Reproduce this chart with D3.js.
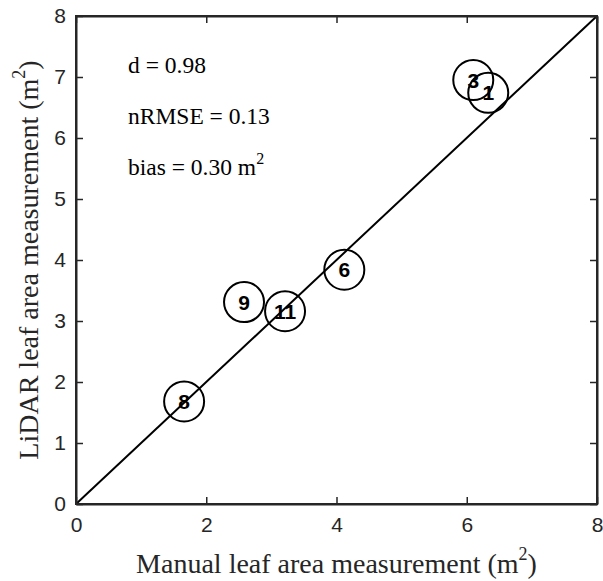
<!DOCTYPE html>
<html>
<head>
<meta charset="utf-8">
<script src="https://cdn.jsdelivr.net/npm/d3@7"></script>
<style>
  body { margin: 0; background: #fff; }
  svg { display: block; }
</style>
</head>
<body>
<script>
const width = 603, height = 581;
const margin = { top: 16, right: 6, bottom: 77, left: 76 };

// plant ids and measurements (m^2)
const plantIds = ["8", "9", "11", "6", "3", "1"];
const manualArea = [1.66, 2.58, 3.21, 4.12, 6.10, 6.33];
const lidarArea = [1.68, 3.31, 3.16, 3.84, 6.95, 6.74];

const xTicks = [0, 2, 4, 6, 8];
const yTicks = [0, 1, 2, 3, 4, 5, 6, 7, 8];
const stats = [
  { label: "d = 0.98", unit: false },
  { label: "nRMSE = 0.13", unit: false },
  { label: "bias = 0.30 m", unit: true }
];

const points = plantIds.map((id, i) => ({ id, x: manualArea[i], y: lidarArea[i] }));

const x = d3.scaleLinear().domain([0, 8]).range([margin.left, width - margin.right]);
const y = d3.scaleLinear().domain([0, 8]).range([height - margin.bottom, margin.top]);

const svg = d3.select("body").append("svg")
  .attr("width", width)
  .attr("height", height);

const axisColor = "#262626";
const tickFont = "'Liberation Sans', Arial, sans-serif";
const serif = "'Liberation Serif', 'Times New Roman', serif";

// 1:1 line
svg.append("line")
  .attr("x1", x(0)).attr("y1", y(0))
  .attr("x2", x(8)).attr("y2", y(8))
  .attr("stroke", "#000")
  .attr("stroke-width", 2);

// circles with ids
const pts = svg.append("g")
  .selectAll("g")
  .data(points)
  .join("g")
  .attr("transform", d => `translate(${x(d.x)},${y(d.y)})`);

pts.append("circle")
  .attr("r", 20)
  .attr("fill", "none")
  .attr("stroke", "#000")
  .attr("stroke-width", 2);

pts.append("text")
  .attr("text-anchor", "middle")
  .attr("dy", "0.36em")
  .attr("font-family", tickFont)
  .attr("font-weight", "bold")
  .attr("font-size", 21)
  .text(d => d.id);

// axes, ticks pointing in, box on all sides
const tickLen = 7;

const gBottom = svg.append("g")
  .attr("transform", `translate(0,${y(0)})`)
  .call(d3.axisBottom(x).tickValues(xTicks).tickSizeInner(-tickLen).tickSizeOuter(0).tickPadding(13));
const gLeft = svg.append("g")
  .attr("transform", `translate(${x(0)},0)`)
  .call(d3.axisLeft(y).tickValues(yTicks).tickSizeInner(-tickLen).tickSizeOuter(0).tickPadding(10));
const gTop = svg.append("g")
  .attr("transform", `translate(0,${y(8)})`)
  .call(d3.axisTop(x).tickValues(xTicks).tickSizeInner(-tickLen).tickSizeOuter(0).tickFormat(""));
const gRight = svg.append("g")
  .attr("transform", `translate(${x(8)},0)`)
  .call(d3.axisRight(y).tickValues(yTicks).tickSizeInner(-tickLen).tickSizeOuter(0).tickFormat(""));

[gBottom, gLeft, gTop, gRight].forEach(g => {
  g.attr("font-family", tickFont).attr("font-size", 21);
  g.select(".domain").attr("stroke", axisColor).attr("stroke-width", 2);
  g.selectAll(".tick line").attr("stroke", axisColor).attr("stroke-width", 1.5);
  g.selectAll(".tick text").attr("fill", axisColor);
});

// box
svg.append("rect")
  .attr("x", x(0)).attr("y", y(8))
  .attr("width", x(8) - x(0)).attr("height", y(0) - y(8))
  .attr("fill", "none")
  .attr("stroke", axisColor)
  .attr("stroke-width", 2);

// stats text
const statText = svg.append("g")
  .attr("font-family", serif)
  .attr("font-size", 23.5)
  .attr("fill", "#000");

stats.forEach((s, i) => {
  const t = statText.append("text")
    .attr("x", 128)
    .attr("y", 73 + i * 51)
    .text(s.label);
  if (s.unit) {
    t.append("tspan").attr("dy", -11).attr("font-size", 16).text("2");
  }
});

// axis titles
const xTitle = svg.append("text")
  .attr("x", (x(0) + x(8)) / 2)
  .attr("y", 573)
  .attr("text-anchor", "middle")
  .attr("font-family", serif)
  .attr("font-size", 28)
  .attr("fill", "#262626");
xTitle.append("tspan").text("Manual leaf area measurement (m");
xTitle.append("tspan").attr("dy", -13).attr("font-size", 18).text("2");
xTitle.append("tspan").attr("dy", 13).text(")");

const yTitle = svg.append("text")
  .attr("transform", `translate(38,${(y(0) + y(8)) / 2}) rotate(-90)`)
  .attr("text-anchor", "middle")
  .attr("font-family", serif)
  .attr("font-size", 28)
  .attr("fill", "#262626");
yTitle.append("tspan").text("LiDAR leaf area measurement (m");
yTitle.append("tspan").attr("dy", -13).attr("font-size", 18).text("2");
yTitle.append("tspan").attr("dy", 13).text(")");
</script>
</body>
</html>
